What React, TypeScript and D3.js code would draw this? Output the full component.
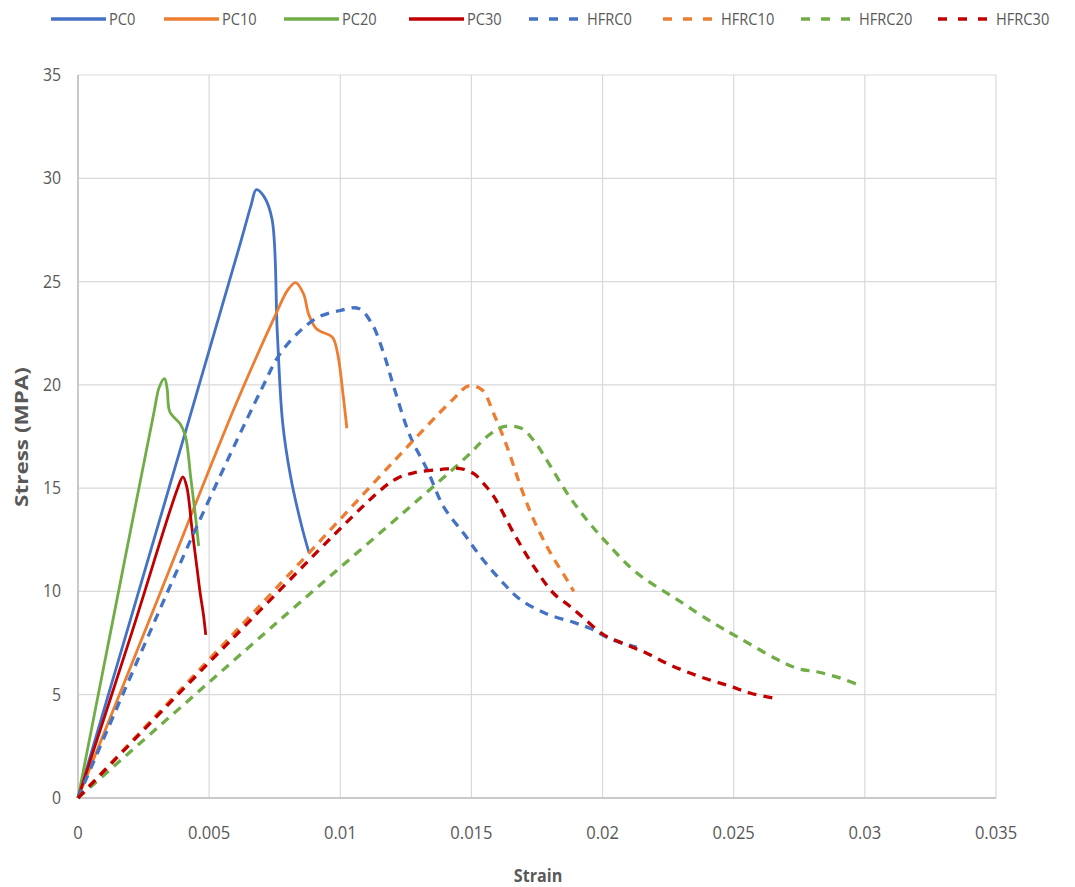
import React from "react";
import * as d3 from "d3";

type Pt = [number, number];

const xTicks = [0, 0.005, 0.01, 0.015, 0.02, 0.025, 0.03, 0.035];
const xTickLabels = ["0", "0.005", "0.01", "0.015", "0.02", "0.025", "0.03", "0.035"];
const yTicks = [0, 5, 10, 15, 20, 25, 30, 35];

const pc0: Pt[] = [[0, 0], [0.0031, 13.4], [0.0062, 26.9], [0.0066, 28.7], [0.0068, 29.45], [0.0071, 29.1], [0.0074, 28.0], [0.0076, 22.5], [0.0078, 18.2], [0.0081, 15.6], [0.0085, 13.3], [0.0088, 11.9]];
const pc10: Pt[] = [[0, 0], [0.003, 9.5], [0.006, 19.0], [0.0075, 23.3], [0.008, 24.6], [0.0083, 24.95], [0.0086, 24.4], [0.0088, 23.4], [0.0091, 22.7], [0.0097, 22.3], [0.0099, 21.5], [0.0101, 19.6], [0.01025, 17.9]];
const pc20: Pt[] = [[0, 0], [0.0015, 9.7], [0.0029, 18.7], [0.0031, 19.9], [0.0033, 20.3], [0.0034, 19.8], [0.0035, 18.7], [0.0039, 18.1], [0.0041, 17.5], [0.0043, 15.5], [0.0045, 13.4], [0.0046, 12.2]];
const pc30: Pt[] = [[0, 0], [0.002, 7.8], [0.0038, 15.0], [0.004, 15.55], [0.00415, 15.05], [0.00434, 13.1], [0.00453, 11.2], [0.00466, 9.9], [0.00478, 8.9], [0.00487, 7.9]];
const hfrc0: Pt[] = [[0, 0], [0.0043, 12.5], [0.007, 19.8], [0.0077, 21.5], [0.0085, 22.65], [0.0092, 23.3], [0.01, 23.6], [0.0107, 23.7], [0.0112, 22.97], [0.01166, 21.5], [0.01204, 19.9], [0.01267, 17.5], [0.01331, 15.9], [0.01394, 14.1], [0.01471, 12.8], [0.01534, 11.7], [0.01611, 10.55], [0.01687, 9.6], [0.0179, 8.9], [0.0189, 8.5], [0.01954, 8.2], [0.0203, 7.7], [0.0213, 7.3]];
const hfrc10: Pt[] = [[0, 0], [0.007, 9.4], [0.0143, 19.3], [0.0149, 19.95], [0.01541, 19.75], [0.01585, 18.6], [0.01636, 17.0], [0.01687, 15.1], [0.01738, 13.45], [0.01802, 11.85], [0.01865, 10.55], [0.0189, 10.0]];
const hfrc20: Pt[] = [[0, 0], [0.0075, 8.4], [0.0148, 16.5], [0.0156, 17.5], [0.0162, 17.97], [0.0169, 17.9], [0.01738, 17.3], [0.0179, 16.3], [0.01865, 14.75], [0.01941, 13.45], [0.0202, 12.3], [0.0213, 10.9], [0.02285, 9.6], [0.02425, 8.45], [0.02514, 7.8], [0.02667, 6.7], [0.02743, 6.27], [0.0282, 6.1], [0.02908, 5.8], [0.0299, 5.4]];
const hfrc30: Pt[] = [[0, 0], [0.0058, 7.6], [0.01153, 14.9], [0.01216, 15.47], [0.0128, 15.74], [0.01382, 15.9], [0.01458, 15.95], [0.01509, 15.7], [0.01541, 15.3], [0.01585, 14.6], [0.01662, 12.8], [0.01738, 11.2], [0.01814, 9.9], [0.01878, 9.26], [0.01929, 8.7], [0.02005, 7.9], [0.02094, 7.4], [0.0217, 7.0], [0.02247, 6.5], [0.02323, 6.1], [0.02412, 5.7], [0.02489, 5.4], [0.02565, 5.07], [0.02667, 4.8]];

const seriesNames = ["PC0", "PC10", "PC20", "PC30", "HFRC0", "HFRC10", "HFRC20", "HFRC30"];
const seriesData = [pc0, pc10, pc20, pc30, hfrc0, hfrc10, hfrc20, hfrc30];
const seriesColors = ["#4472C4", "#ED7D31", "#70AD47", "#C00000", "#4472C4", "#ED7D31", "#70AD47", "#C00000"];
const seriesDashed = [false, false, false, false, true, true, true, true];
const legendX = [51, 164, 284, 409, 529, 663, 801, 938];

const W = 1075;
const H = 887;
const left = 78;
const right = 996;
const top = 75;
const bottom = 798;
const font = "'Open Sans', sans-serif";
const textColor = "#595959";

function SText(props: { x: number; y: number; sx: number; anchor?: string; size: number; bold?: boolean; children: string }) {
  return (
    <text
      transform={`translate(${props.x},${props.y}) scale(${props.sx},1)`}
      textAnchor={props.anchor || "start"}
      fontSize={props.size}
      fontWeight={props.bold ? "bold" : "normal"}
      fill={textColor}
    >
      {props.children}
    </text>
  );
}

export default function App() {
  const x = d3.scaleLinear().domain([0, 0.035]).range([left, right]);
  const y = d3.scaleLinear().domain([0, 35]).range([bottom, top]);
  const line = d3
    .line<Pt>()
    .x((d) => x(d[0]))
    .y((d) => y(d[1]))
    .curve(d3.curveCatmullRom.alpha(0.5));

  return (
    <svg
      width={W}
      height={H}
      style={{ position: "absolute", left: 0, top: 0, background: "#fff" }}
      fontFamily={font}
    >
      <rect x={0} y={0} width={W} height={H} fill="#fff" />
      {yTicks.map((t) => (
        <line key={"gy" + t} x1={left} x2={right} y1={y(t)} y2={y(t)} stroke="#d9d9d9" strokeWidth={1.2} />
      ))}
      {xTicks.map((t) => (
        <line key={"gx" + t} x1={x(t)} x2={x(t)} y1={top} y2={bottom} stroke="#d9d9d9" strokeWidth={1.2} />
      ))}
      <line x1={left} x2={right} y1={bottom} y2={bottom} stroke="#bfbfbf" strokeWidth={1.5} />
      <line x1={left} x2={left} y1={top} y2={bottom} stroke="#bfbfbf" strokeWidth={1.5} />
      {yTicks.map((t) => (
        <SText key={"ty" + t} x={left - 17} y={y(t) + 6} sx={0.88} anchor="end" size={18}>
          {String(t)}
        </SText>
      ))}
      {xTicks.map((t, i) => (
        <SText key={"tx" + t} x={x(t)} y={839} sx={0.92} anchor="middle" size={18}>
          {xTickLabels[i]}
        </SText>
      ))}
      <SText x={538} y={882} sx={0.95} anchor="middle" size={17} bold>
        Strain
      </SText>
      <text
        transform={`translate(28, 437) rotate(-90)`}
        textAnchor="middle"
        fontSize={17}
        fontWeight="bold"
        fill={textColor}
        textLength={140}
        lengthAdjust="spacingAndGlyphs"
      >
        Stress (MPA)
      </text>
      {seriesData.map((d, i) => (
        <path
          key={"s" + i}
          d={line(d) || ""}
          fill="none"
          stroke={seriesColors[i]}
          strokeWidth={seriesDashed[i] ? 3.3 : 2.8}
          strokeDasharray={seriesDashed[i] ? "9,7" : undefined}
          strokeLinejoin="round"
        />
      ))}
      {seriesNames.map((n, i) => (
        <g key={"l" + n}>
          <line
            x1={legendX[i]}
            x2={legendX[i] + 55}
            y1={19}
            y2={19}
            stroke={seriesColors[i]}
            strokeWidth={3.5}
            strokeDasharray={seriesDashed[i] ? "9,11" : undefined}
          />
          <SText x={legendX[i] + 58} y={25} sx={0.86} size={17}>
            {n}
          </SText>
        </g>
      ))}
    </svg>
  );
}
